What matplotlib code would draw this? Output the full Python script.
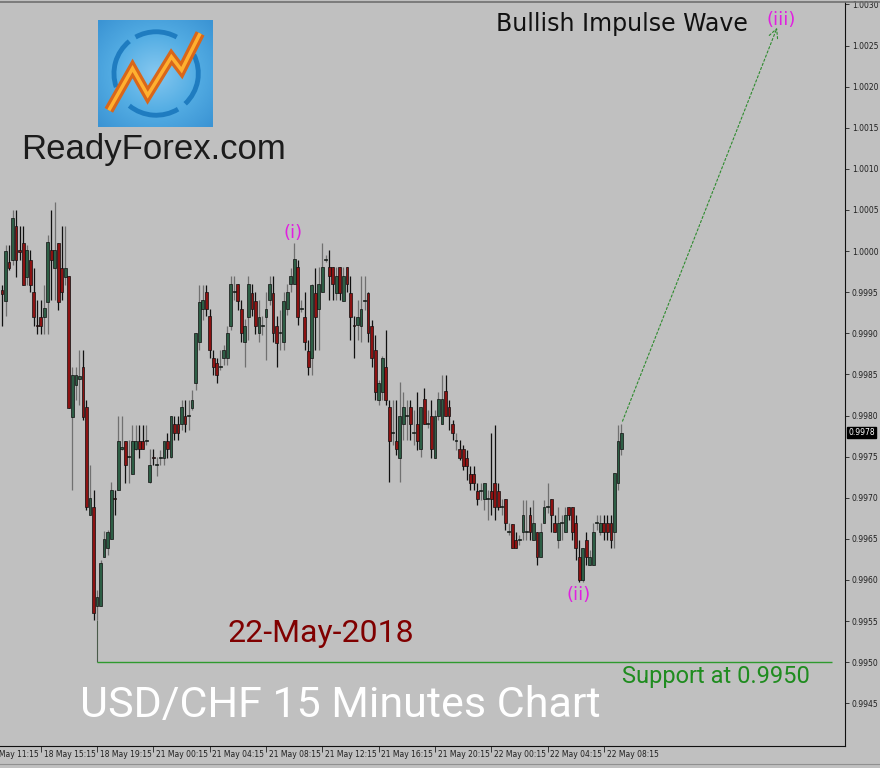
import matplotlib
matplotlib.use("Agg")
import matplotlib.pyplot as plt
import numpy as np
from matplotlib.patches import Arc, Rectangle
from matplotlib.colors import LinearSegmentedColormap
from matplotlib.transforms import blended_transform_factory

# USD/CHF 15m candles (oldest first)
open_ = [0.99953, 0.99939, 0.99987, 0.99989, 1.00030, 1.00001, 1.00010, 0.99968, 0.99989, 0.99950,
         0.99910, 0.99920, 0.99920, 0.99938, 1.00001, 0.99979, 1.00010, 0.99979, 0.99968, 0.99970,
         0.99798, 0.99837, 0.99845, 0.99859, 0.99810, 0.99679, 0.99689, 0.99568, 0.99568, 0.99628,
         0.99639, 0.99650, 0.99700, 0.99709, 0.99759, 0.99769, 0.99749, 0.99729, 0.99759, 0.99769,
         0.99769, 0.99769, 0.99719, 0.99749, 0.99740, 0.99748, 0.99748, 0.99769, 0.99749, 0.99790,
         0.99790, 0.99790, 0.99799, 0.99799, 0.99809, 0.99839, 0.99889, 0.99929, 0.99950, 0.99921,
         0.99870, 0.99864, 0.99859, 0.99870, 0.99870, 0.99909, 0.99950, 0.99960, 0.99929, 0.99889,
         0.99920, 0.99949, 0.99939, 0.99900, 0.99909, 0.99920, 0.99940, 0.99949, 0.99909, 0.99900,
         0.99889, 0.99929, 0.99960, 0.99960, 0.99981, 0.99929, 0.99920, 0.99878, 0.99870, 0.99949,
         0.99929, 0.99950, 0.99989, 0.99981, 0.99981, 0.99949, 0.99981, 0.99939, 0.99981, 0.99949,
         0.99910, 0.99910, 0.99909, 0.99939, 0.99949, 0.99909, 0.99880, 0.99819, 0.99828, 0.99859,
         0.99810, 0.99779, 0.99769, 0.99748, 0.99790, 0.99799, 0.99810, 0.99779, 0.99790, 0.99759,
         0.99820, 0.99790, 0.99799, 0.99748, 0.99799, 0.99790, 0.99830, 0.99810, 0.99790, 0.99769,
         0.99759, 0.99759, 0.99748, 0.99729, 0.99729, 0.99708, 0.99708, 0.99698, 0.99698, 0.99708,
         0.99718, 0.99708, 0.99689, 0.99698, 0.99658, 0.99668, 0.99648, 0.99648, 0.99658, 0.99658,
         0.99679, 0.99648, 0.99658, 0.99628, 0.99669, 0.99689, 0.99698, 0.99669, 0.99648, 0.99669,
         0.99658, 0.99689, 0.99689, 0.99669, 0.99628, 0.99600, 0.99648, 0.99618, 0.99618, 0.99669,
         0.99658, 0.99669, 0.99669, 0.99669, 0.99658, 0.99718, 0.99759]
high = [0.99959, 1.00007, 1.00007, 1.00050, 1.00050, 1.00030, 1.00030, 1.00007, 1.00001, 0.99979,
        0.99940, 0.99940, 0.99959, 1.00019, 1.00050, 1.00060, 1.00010, 1.00030, 1.00030, 0.99970,
        0.99859, 0.99859, 0.99880, 0.99880, 0.99819, 0.99740, 0.99709, 0.99588, 0.99624, 0.99659,
        0.99661, 0.99719, 0.99709, 0.99799, 0.99799, 0.99769, 0.99770, 0.99788, 0.99788, 0.99788,
        0.99788, 0.99788, 0.99759, 0.99759, 0.99749, 0.99758, 0.99769, 0.99779, 0.99799, 0.99799,
        0.99799, 0.99819, 0.99819, 0.99819, 0.99831, 0.99900, 0.99959, 0.99959, 0.99959, 0.99929,
        0.99880, 0.99870, 0.99880, 0.99886, 0.99909, 0.99970, 0.99970, 0.99960, 0.99940, 0.99918,
        0.99970, 0.99960, 0.99950, 0.99940, 0.99921, 0.99950, 0.99970, 0.99970, 0.99921, 0.99928,
        0.99950, 0.99960, 0.99979, 1.00010, 0.99989, 0.99940, 0.99950, 0.99892, 0.99960, 0.99979,
        0.99981, 1.00010, 0.99995, 1.00001, 0.99981, 0.99981, 0.99981, 0.99981, 0.99981, 0.99970,
        0.99921, 0.99940, 0.99970, 0.99970, 0.99950, 0.99916, 0.99898, 0.99843, 0.99873, 0.99904,
        0.99819, 0.99819, 0.99819, 0.99841, 0.99828, 0.99819, 0.99819, 0.99807, 0.99828, 0.99810,
        0.99833, 0.99807, 0.99819, 0.99807, 0.99828, 0.99849, 0.99849, 0.99819, 0.99794, 0.99779,
        0.99770, 0.99764, 0.99758, 0.99738, 0.99738, 0.99718, 0.99718, 0.99718, 0.99709, 0.99779,
        0.99788, 0.99718, 0.99698, 0.99698, 0.99669, 0.99668, 0.99658, 0.99655, 0.99697, 0.99697,
        0.99689, 0.99697, 0.99658, 0.99669, 0.99697, 0.99718, 0.99698, 0.99679, 0.99689, 0.99679,
        0.99689, 0.99689, 0.99689, 0.99679, 0.99648, 0.99639, 0.99658, 0.99636, 0.99669, 0.99679,
        0.99679, 0.99679, 0.99679, 0.99679, 0.99730, 0.99788, 0.99790]
low = [0.99909, 0.99921, 0.99977, 0.99983, 0.99968, 0.99989, 0.99959, 0.99959, 0.99950, 0.99909,
       0.99899, 0.99899, 0.99899, 0.99899, 0.99940, 0.99940, 0.99928, 0.99940, 0.99959, 0.99809,
       0.99709, 0.99819, 0.99813, 0.99794, 0.99685, 0.99679, 0.99551, 0.99551, 0.99568, 0.99628,
       0.99630, 0.99650, 0.99679, 0.99709, 0.99758, 0.99718, 0.99718, 0.99729, 0.99758, 0.99748,
       0.99759, 0.99764, 0.99718, 0.99740, 0.99727, 0.99740, 0.99740, 0.99748, 0.99748, 0.99770,
       0.99770, 0.99782, 0.99780, 0.99782, 0.99807, 0.99831, 0.99880, 0.99916, 0.99921, 0.99870,
       0.99849, 0.99839, 0.99855, 0.99861, 0.99861, 0.99904, 0.99940, 0.99928, 0.99889, 0.99859,
       0.99892, 0.99921, 0.99899, 0.99889, 0.99898, 0.99867, 0.99934, 0.99889, 0.99859, 0.99880,
       0.99880, 0.99922, 0.99950, 0.99960, 0.99910, 0.99926, 0.99880, 0.99849, 0.99849, 0.99880,
       0.99880, 0.99950, 0.99987, 0.99940, 0.99940, 0.99940, 0.99940, 0.99939, 0.99950, 0.99892,
       0.99870, 0.99892, 0.99889, 0.99928, 0.99889, 0.99859, 0.99819, 0.99813, 0.99819, 0.99813,
       0.99719, 0.99764, 0.99752, 0.99719, 0.99770, 0.99770, 0.99770, 0.99764, 0.99758, 0.99749,
       0.99790, 0.99785, 0.99748, 0.99748, 0.99794, 0.99790, 0.99799, 0.99782, 0.99770, 0.99758,
       0.99746, 0.99734, 0.99721, 0.99709, 0.99709, 0.99691, 0.99697, 0.99685, 0.99673, 0.99679,
       0.99673, 0.99685, 0.99679, 0.99661, 0.99655, 0.99639, 0.99639, 0.99642, 0.99648, 0.99648,
       0.99648, 0.99648, 0.99618, 0.99628, 0.99669, 0.99682, 0.99658, 0.99658, 0.99639, 0.99648,
       0.99658, 0.99673, 0.99648, 0.99624, 0.99597, 0.99597, 0.99618, 0.99618, 0.99618, 0.99661,
       0.99655, 0.99648, 0.99648, 0.99639, 0.99639, 0.99709, 0.99752]
close = [0.99948, 1.00000, 0.99979, 1.00040, 0.99989, 0.99999, 0.99959, 1.00001, 0.99959, 0.99920,
         0.99909, 0.99909, 0.99931, 1.00011, 0.99989, 1.00001, 0.99938, 0.99950, 0.99979, 0.99809,
         0.99849, 0.99849, 0.99848, 0.99798, 0.99689, 0.99700, 0.99560, 0.99579, 0.99620, 0.99650,
         0.99658, 0.99709, 0.99699, 0.99769, 0.99762, 0.99740, 0.99750, 0.99769, 0.99769, 0.99759,
         0.99759, 0.99770, 0.99740, 0.99748, 0.99741, 0.99749, 0.99769, 0.99759, 0.99799, 0.99779,
         0.99779, 0.99810, 0.99790, 0.99800, 0.99819, 0.99900, 0.99938, 0.99940, 0.99929, 0.99880,
         0.99859, 0.99849, 0.99860, 0.99880, 0.99900, 0.99960, 0.99951, 0.99939, 0.99900, 0.99909,
         0.99960, 0.99929, 0.99909, 0.99920, 0.99910, 0.99929, 0.99960, 0.99900, 0.99888, 0.99901,
         0.99939, 0.99950, 0.99970, 0.99990, 0.99920, 0.99930, 0.99889, 0.99859, 0.99959, 0.99920,
         0.99960, 0.99981, 0.99990, 0.99970, 0.99960, 0.99970, 0.99949, 0.99970, 0.99960, 0.99920,
         0.99909, 0.99920, 0.99929, 0.99940, 0.99900, 0.99870, 0.99828, 0.99839, 0.99870, 0.99819,
         0.99769, 0.99780, 0.99759, 0.99799, 0.99810, 0.99800, 0.99790, 0.99780, 0.99769, 0.99810,
         0.99790, 0.99791, 0.99759, 0.99799, 0.99820, 0.99820, 0.99799, 0.99799, 0.99779, 0.99770,
         0.99748, 0.99738, 0.99738, 0.99718, 0.99718, 0.99698, 0.99709, 0.99718, 0.99699, 0.99698,
         0.99689, 0.99689, 0.99690, 0.99669, 0.99659, 0.99639, 0.99639, 0.99649, 0.99679, 0.99659,
         0.99658, 0.99669, 0.99628, 0.99658, 0.99689, 0.99690, 0.99679, 0.99658, 0.99669, 0.99670,
         0.99679, 0.99679, 0.99658, 0.99639, 0.99600, 0.99639, 0.99628, 0.99628, 0.99658, 0.99670,
         0.99669, 0.99658, 0.99658, 0.99648, 0.99730, 0.99769, 0.99779]

time_ticks = [-5, 11, 27, 43, 59, 75, 91, 107, 123, 139, 155, 171]
time_labels = ["18 May 11:15", "18 May 15:15", "18 May 19:15", "21 May 00:15",
               "21 May 04:15", "21 May 08:15", "21 May 12:15", "21 May 16:15",
               "21 May 20:15", "22 May 00:15", "22 May 04:15", "22 May 08:15"]
price_ticks = [0.9945, 0.9950, 0.9955, 0.9960, 0.9965, 0.9970, 0.9975, 0.9980,
               0.9985, 0.9990, 0.9995, 1.0000, 1.0005, 1.0010, 1.0015, 1.0020,
               1.0025, 1.0030]

support = 0.9950
support_bar = 27
target_bar = 220.5
target_price = 1.00275

BG = "#c0c0c0"
fig = plt.figure(figsize=(8.8, 7.68), dpi=100, facecolor=BG)
ax = fig.add_axes([0, 22 / 768, 845 / 880, 744 / 768])
ax.set_facecolor(BG)
ax.set_xlim(-0.57, 239.5)
ax.set_ylim(0.99398, 1.00303)

# candles
for i in range(len(close)):
    o, h, l, c = open_[i], high[i], low[i], close[i]
    bull = c >= o
    ax.vlines(i, l, h, color="#707070" if bull else "#101010", lw=0.9, zorder=2)
    body = max(abs(c - o), 0.000012)
    ax.add_patch(Rectangle((i - 0.4, min(o, c)), 0.8, body,
                           facecolor="#2d5e45" if bull else "#8c1212",
                           edgecolor="#101010", lw=0.5, zorder=3))

# support line
ax.vlines(support_bar, support, low[support_bar], color="#4a5a4a", lw=0.8, zorder=1)
ax.hlines(support, support_bar, 235.8, color="#2e9a2e", lw=1.0, zorder=1)

# projection arrow
last = len(close) - 1
ax.annotate("", xy=(target_bar, target_price), xytext=(last, high[last]),
            arrowprops=dict(arrowstyle="->", linestyle=(0, (2, 2)), color="#2e8b2e",
                            lw=0.8, mutation_scale=16))

# axes styling
for s in ["left", "top"]:
    ax.spines[s].set_visible(False)
ax.spines["right"].set_color("#101010")
ax.spines["bottom"].set_color("#101010")
ax.yaxis.tick_right()
ax.set_yticks(price_ticks)
ax.set_yticklabels(["%.4f" % p for p in price_ticks])
ax.tick_params(axis="y", direction="out", length=3, labelsize=5.5, pad=2,
               colors="#202020", width=0.6)
ax.set_xticks([t for t in time_ticks if t >= 0])
ax.set_xticklabels([])
ax.tick_params(axis="x", direction="out", length=4, width=0.6, colors="#202020")
tr = blended_transform_factory(ax.transData, ax.transAxes)
for t, lab in zip(time_ticks, time_labels):
    ax.text(t + 0.8, -0.006, lab, transform=tr, ha="left", va="top",
            fontsize=5.5, color="#202020", clip_on=False)

# last price box
trp = blended_transform_factory(ax.transAxes, ax.transData)
ax.text(1.004, close[last], "%.4f" % close[last], transform=trp, ha="left", va="center",
        fontsize=5.5, color="white",
        bbox=dict(boxstyle="square,pad=0.15", fc="black", ec="black"))

# top border and bottom strip
fig.add_artist(plt.Line2D([0, 1], [1 - 1.5 / 768] * 2, color="#707070", lw=1.2))
fig.add_artist(plt.Line2D([0, 1], [4 / 768] * 2, color="#909090", lw=0.8))

# texts
def ftext(px, py, s, **kw):
    fig.text(px / 880, 1 - py / 768, s, ha="center", va="center", **kw)

ftext(622, 24, "Bullish Impulse Wave", fontsize=17, color="#111111", family="DejaVu Sans")
ftext(781, 20, "(iii)", fontsize=13, color="#e020e0", family="DejaVu Sans")
ftext(293, 233, "(i)", fontsize=13, color="#e020e0", family="DejaVu Sans")
ftext(579, 595, "(ii)", fontsize=13, color="#e020e0", family="DejaVu Sans")
ftext(153, 149, "ReadyForex.com", fontsize=25, color="#1c1c1c", family="Liberation Sans")
ftext(321, 634, "22-May-2018", fontsize=23, color="#800000", family="Roboto")
ftext(340, 706, "USD/CHF 15 Minutes Chart", fontsize=31, color="white", family="Roboto")
ftext(716, 677, "Support at 0.9950", fontsize=17, color="#1f8c1f", family="Roboto")

# logo
lg = fig.add_axes([98 / 880, 1 - 127 / 768, 114 / 880, 107 / 768])
lg.set_xlim(0, 1)
lg.set_ylim(0, 1)
lg.axis("off")
gx, gy = np.meshgrid(np.linspace(-1, 1, 60), np.linspace(-1, 1, 60))
blue = LinearSegmentedColormap.from_list("logo", ["#86c8f0", "#55aee4", "#3b94d4"])
lg.imshow(np.hypot(gx, gy), cmap=blue, extent=(0, 1, 0, 1), aspect="auto",
          vmin=0, vmax=1.4, interpolation="bilinear")
for t1, t2 in [(62, 118), (128, 200), (232, 300), (312, 28)]:
    lg.add_patch(Arc((0.51, 0.5), 0.74, 0.78, theta1=t1, theta2=t2, color="#1f7cc0", lw=3.5))
zx = [0.095, 0.303, 0.436, 0.644, 0.733, 0.896]
zy = [0.156, 0.547, 0.297, 0.656, 0.531, 0.875]
lg.plot(zx, zy, color="#d9661a", lw=7, solid_joinstyle="miter", solid_capstyle="butt")
lg.plot(zx, zy, color="#ffb030", lw=2.5, solid_joinstyle="miter", solid_capstyle="butt")
lg.set_xlim(0, 1)
lg.set_ylim(0, 1)

fig.savefig("out.png", dpi=100, facecolor=BG)
